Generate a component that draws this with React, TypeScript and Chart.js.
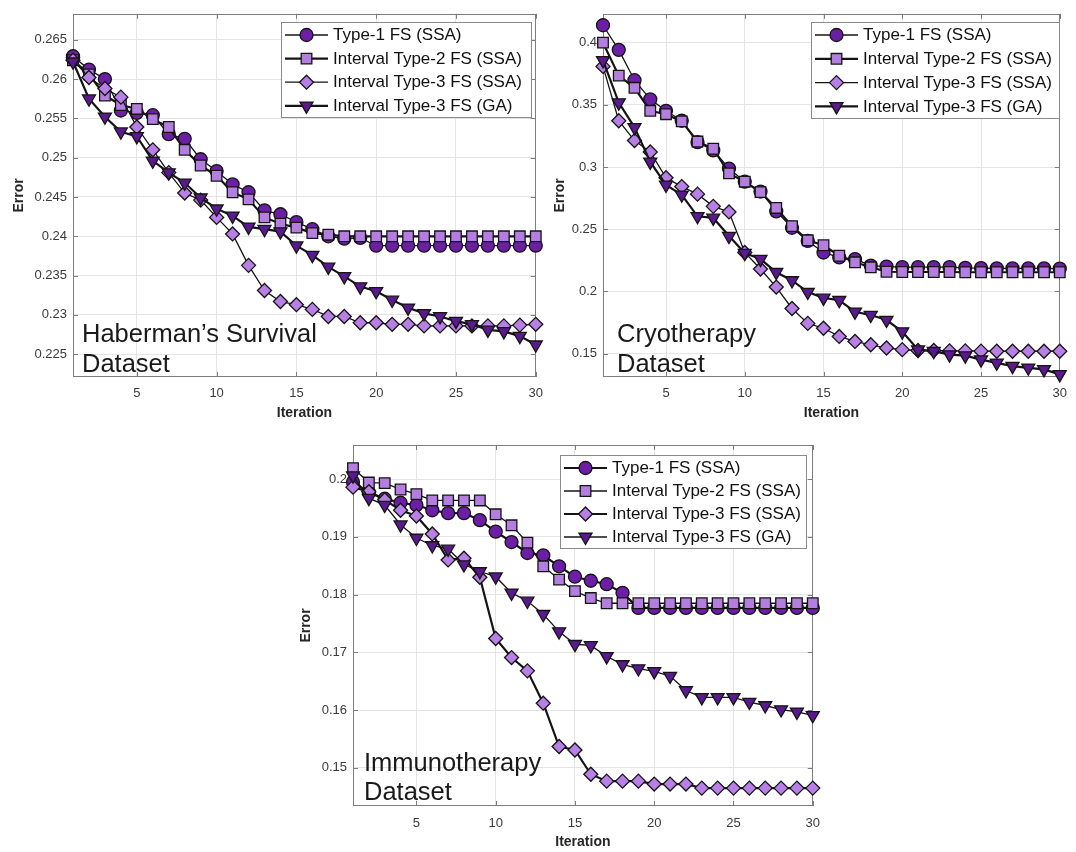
import React, { useEffect, useRef } from "react";
import { Chart, registerables } from "chart.js";
import { drawPoint } from "chart.js/helpers";

Chart.register(...registerables);

// ---------------- data ----------------
const iterations = [1, 2, 3, 4, 5, 6, 7, 8, 9, 10, 11, 12, 13, 14, 15, 16, 17, 18, 19, 20, 21, 22, 23, 24, 25, 26, 27, 28, 29, 30];
const xTicks = [5, 10, 15, 20, 25, 30];
const seriesNames = ["Type-1 FS (SSA)", "Interval Type-2 FS (SSA)", "Interval Type-3 FS (SSA)", "Interval Type-3 FS (GA)"];

const habermanYTicks = [0.225, 0.23, 0.235, 0.24, 0.245, 0.25, 0.255, 0.26, 0.265];
const habermanType1 = [0.2629, 0.2612, 0.2600, 0.2560, 0.2557, 0.2554, 0.2530, 0.2524, 0.2498, 0.2483, 0.2466, 0.2456, 0.2433, 0.2428, 0.2418, 0.2409, 0.2400, 0.2397, 0.2398, 0.2388, 0.2388, 0.2388, 0.2388, 0.2388, 0.2388, 0.2388, 0.2388, 0.2388, 0.2388, 0.2388];
const habermanType2 = [0.2624, 0.2606, 0.2579, 0.2567, 0.2562, 0.2549, 0.2539, 0.2510, 0.2490, 0.2477, 0.2456, 0.2447, 0.2424, 0.2416, 0.2411, 0.2404, 0.2402, 0.2400, 0.2400, 0.2400, 0.2400, 0.2400, 0.2400, 0.2400, 0.2400, 0.2400, 0.2400, 0.2400, 0.2400, 0.2400];
const habermanType3 = [0.2624, 0.2602, 0.2588, 0.2577, 0.2539, 0.2510, 0.2481, 0.2455, 0.2446, 0.2424, 0.2403, 0.2363, 0.2331, 0.2317, 0.2313, 0.2307, 0.2298, 0.2298, 0.2290, 0.2290, 0.2288, 0.2288, 0.2286, 0.2286, 0.2286, 0.2286, 0.2286, 0.2286, 0.2287, 0.2288];
const habermanGA = [0.2622, 0.2575, 0.2552, 0.2533, 0.2527, 0.2496, 0.2481, 0.2468, 0.2449, 0.2435, 0.2426, 0.2412, 0.2409, 0.2406, 0.2388, 0.2376, 0.2361, 0.2349, 0.2336, 0.2330, 0.2319, 0.2309, 0.2302, 0.2298, 0.2292, 0.2288, 0.2281, 0.2279, 0.2273, 0.2262];

const cryoYTicks = [0.15, 0.2, 0.25, 0.3, 0.35, 0.4];
const cryoType1 = [0.4140, 0.3942, 0.3698, 0.3544, 0.3452, 0.3372, 0.3200, 0.3134, 0.2988, 0.2882, 0.2803, 0.2644, 0.2512, 0.2406, 0.2313, 0.2273, 0.2260, 0.2207, 0.2200, 0.2195, 0.2195, 0.2195, 0.2195, 0.2190, 0.2188, 0.2186, 0.2185, 0.2185, 0.2185, 0.2183];
const cryoType2 = [0.4000, 0.3735, 0.3637, 0.3452, 0.3425, 0.3367, 0.3205, 0.3147, 0.2949, 0.2882, 0.2798, 0.2671, 0.2525, 0.2411, 0.2371, 0.2287, 0.2234, 0.2194, 0.2158, 0.2156, 0.2156, 0.2156, 0.2156, 0.2154, 0.2154, 0.2154, 0.2154, 0.2154, 0.2154, 0.2154];
const cryoType3 = [0.3809, 0.3372, 0.3213, 0.3121, 0.2914, 0.2843, 0.2782, 0.2684, 0.2639, 0.2313, 0.2180, 0.2035, 0.1863, 0.1743, 0.1704, 0.1638, 0.1598, 0.1571, 0.1545, 0.1532, 0.1525, 0.1525, 0.1522, 0.1522, 0.1520, 0.1519, 0.1519, 0.1519, 0.1519, 0.1519];
const cryoGA = [0.3857, 0.3518, 0.3319, 0.3041, 0.2856, 0.2777, 0.2604, 0.2591, 0.2445, 0.2308, 0.2260, 0.2154, 0.2088, 0.1995, 0.1948, 0.1929, 0.1836, 0.1810, 0.1770, 0.1677, 0.1532, 0.1519, 0.1492, 0.1484, 0.1452, 0.1426, 0.1399, 0.1386, 0.1373, 0.1333];

const immunoYTicks = [0.15, 0.16, 0.17, 0.18, 0.19, 0.2];
const immunoType1 = [0.1995, 0.1977, 0.1966, 0.1959, 0.1955, 0.1946, 0.1941, 0.1941, 0.1929, 0.1909, 0.1891, 0.1872, 0.1868, 0.1849, 0.1831, 0.1824, 0.1818, 0.1803, 0.1777, 0.1777, 0.1777, 0.1777, 0.1777, 0.1777, 0.1777, 0.1777, 0.1777, 0.1777, 0.1777, 0.1777];
const immunoType2 = [0.2019, 0.1994, 0.1993, 0.1982, 0.1974, 0.1963, 0.1963, 0.1963, 0.1963, 0.1939, 0.1920, 0.1890, 0.1849, 0.1826, 0.1806, 0.1794, 0.1785, 0.1785, 0.1785, 0.1785, 0.1785, 0.1785, 0.1785, 0.1785, 0.1785, 0.1785, 0.1785, 0.1785, 0.1785, 0.1785];
const immunoType3 = [0.1986, 0.1978, 0.1964, 0.1946, 0.1936, 0.1905, 0.1860, 0.1863, 0.1830, 0.1724, 0.1691, 0.1668, 0.1612, 0.1537, 0.1531, 0.1489, 0.1477, 0.1477, 0.1477, 0.1472, 0.1472, 0.1472, 0.1465, 0.1465, 0.1465, 0.1465, 0.1465, 0.1465, 0.1465, 0.1465];
const immunoGA = [0.2006, 0.1967, 0.1955, 0.1921, 0.1898, 0.1885, 0.1879, 0.1852, 0.1840, 0.1831, 0.1803, 0.1789, 0.1766, 0.1736, 0.1714, 0.1712, 0.1693, 0.1679, 0.1672, 0.1667, 0.1659, 0.1634, 0.1622, 0.1622, 0.1622, 0.1614, 0.1608, 0.1601, 0.1597, 0.1591];

// ---------------- styles ----------------
const FONT = '"Liberation Sans", Arial, Helvetica, sans-serif';
const markerStyles = [
  { pointStyle: "circle", radius: 6.5, rotation: 0, fill: "#6c1fa6" },
  { pointStyle: "rect", radius: 7.5, rotation: 0, fill: "#b47ee0" },
  { pointStyle: "rectRot", radius: 7, rotation: 0, fill: "#b87fe6" },
  { pointStyle: "triangle", radius: 7.5, rotation: 180, fill: "#5b1990" },
];
const LINE_COLOR = "#141414";
const BOX_COLOR = "#7d7d7d";
const GRID_COLOR = "#e4e4e4";

type Panel = {
  canvas: { left: number; top: number; width: number; height: number };
  area: { left: number; top: number; right: number; bottom: number };
  yMin: number;
  yMax: number;
  yTicks: number[];
  series: number[][];
  lineWidths: number[];
  label: string[];
  labelX: number;
  labelBaselines: number[];
  legend: { x: number; y: number; w: number; h: number; row0: number; rowGap: number; sampleX: number; sampleLen: number; textX: number };
  yTitlePad: number;
  xTitlePad: number;
  xTickPad: number;
};

const panels: Panel[] = [
  {
    canvas: { left: 0, top: 0, width: 552, height: 428 },
    area: { left: 73, top: 9, right: 540, bottom: 377 },
    yMin: 0.2221, yMax: 0.2683, yTicks: habermanYTicks,
    series: [habermanType1, habermanType2, habermanType3, habermanGA],
    lineWidths: [1.3, 2.2, 1.3, 2.2],
    label: ["Haberman\u2019s Survival", "Dataset"], labelX: 82, labelBaselines: [342, 372],
    legend: { x: 281, y: 22, w: 250, h: 95, row0: 35, rowGap: 23.6, sampleX: 285, sampleLen: 43, textX: 333 },
    yTitlePad: 10.6, xTitlePad: 6.6, xTickPad: 9,
  },
  {
    canvas: { left: 545, top: 0, width: 531, height: 428 },
    area: { left: 603, top: 9, right: 1069, bottom: 377 },
    yMin: 0.1312, yMax: 0.4232, yTicks: cryoYTicks,
    series: [cryoType1, cryoType2, cryoType3, cryoGA],
    lineWidths: [1.3, 2.2, 1.3, 2.2],
    label: ["Cryotherapy", "Dataset"], labelX: 617, labelBaselines: [342, 372],
    legend: { x: 811, y: 22, w: 248, h: 96, row0: 35, rowGap: 23.8, sampleX: 815, sampleLen: 43, textX: 863 },
    yTitlePad: 6.6, xTitlePad: 6.6, xTickPad: 9,
  },
  {
    canvas: { left: 290, top: 430, width: 540, height: 422 },
    area: { left: 353, top: 445, right: 817, bottom: 806 },
    yMin: 0.1434, yMax: 0.2059, yTicks: immunoYTicks,
    series: [immunoType1, immunoType2, immunoType3, immunoGA],
    lineWidths: [2.2, 1.3, 2.2, 1.3],
    label: ["Immunotherapy", "Dataset"], labelX: 364, labelBaselines: [771, 800],
    legend: { x: 560, y: 455, w: 246, h: 93, row0: 468, rowGap: 23, sampleX: 564, sampleLen: 43, textX: 612 },
    yTitlePad: 7.6, xTitlePad: 1.6, xTickPad: 10,
  },
];

function fmt(v: number) {
  return String(+v.toFixed(4));
}

function PanelChart({ p }: { p: Panel }) {
  const ref = useRef<HTMLCanvasElement | null>(null);
  useEffect(() => {
    if (!ref.current) return;
    const c = p.canvas;
    const yAxisW = p.area.left - c.left;
    const xAxisH = c.top + c.height - p.area.bottom;
    const padTop = p.area.top - c.top;
    const padRight = c.left + c.width - p.area.right;

    const decor = {
      id: "decor",
      beforeDatasetsDraw(chart: any) {
        const ctx = chart.ctx;
        const a = chart.chartArea;
        const xs = chart.scales.x;
        const ys = chart.scales.y;
        ctx.save();
        ctx.strokeStyle = BOX_COLOR;
        ctx.lineWidth = 1;
        ctx.strokeRect(Math.round(a.left) + 0.5, Math.round(a.top) + 0.5, Math.round(a.right - a.left) - 1, Math.round(a.bottom - a.top) - 1);
        ctx.beginPath();
        const tl = 5;
        for (const t of xTicks) {
          const x = Math.round(xs.getPixelForValue(t)) + 0.5;
          ctx.moveTo(x, a.bottom);
          ctx.lineTo(x, a.bottom - tl);
          ctx.moveTo(x, a.top);
          ctx.lineTo(x, a.top + tl);
        }
        for (const t of p.yTicks) {
          const y = Math.round(ys.getPixelForValue(t)) + 0.5;
          ctx.moveTo(a.left, y);
          ctx.lineTo(a.left + tl, y);
          ctx.moveTo(a.right, y);
          ctx.lineTo(a.right - tl, y);
        }
        ctx.stroke();
        ctx.restore();
      },
      afterDatasetsDraw(chart: any) {
        const ctx = chart.ctx;
        ctx.save();
        ctx.fillStyle = "#1a1a1a";
        ctx.font = `25.5px ${FONT}`;
        ctx.textBaseline = "alphabetic";
        ctx.textAlign = "left";
        p.label.forEach((t, i) => ctx.fillText(t, p.labelX - c.left, p.labelBaselines[i] - c.top));
        const L = p.legend;
        const lx = L.x - c.left;
        const ly = L.y - c.top;
        ctx.fillStyle = "#ffffff";
        ctx.fillRect(lx, ly, L.w, L.h);
        ctx.strokeStyle = "#8a8a8a";
        ctx.lineWidth = 1;
        ctx.strokeRect(Math.round(lx) + 0.5, Math.round(ly) + 0.5, L.w, L.h);
        seriesNames.forEach((name, i) => {
          const y = L.row0 - c.top + i * L.rowGap;
          const sx = L.sampleX - c.left;
          ctx.beginPath();
          ctx.strokeStyle = LINE_COLOR;
          ctx.lineWidth = p.lineWidths[i];
          ctx.moveTo(sx, y);
          ctx.lineTo(sx + L.sampleLen, y);
          ctx.stroke();
          const m = markerStyles[i];
          ctx.fillStyle = m.fill;
          ctx.strokeStyle = LINE_COLOR;
          ctx.lineWidth = 1.3;
          drawPoint(ctx, { pointStyle: m.pointStyle, radius: m.radius, rotation: m.rotation, borderWidth: 1.3 } as any, sx + L.sampleLen / 2, y);
          ctx.fillStyle = "#111111";
          ctx.font = `17px ${FONT}`;
          ctx.textBaseline = "middle";
          ctx.textAlign = "left";
          ctx.fillText(name, L.textX - c.left, y + 0.5);
        });
        ctx.restore();
      },
    };

    const chart = new Chart(ref.current, {
      type: "line",
      data: {
        datasets: p.series.map((s, i) => ({
          label: seriesNames[i],
          data: iterations.map((x, j) => ({ x, y: s[j] })),
          borderColor: LINE_COLOR,
          borderWidth: p.lineWidths[i],
          pointStyle: markerStyles[i].pointStyle as any,
          pointRadius: markerStyles[i].radius,
          pointRotation: markerStyles[i].rotation,
          pointBackgroundColor: markerStyles[i].fill,
          pointBorderColor: LINE_COLOR,
          pointBorderWidth: 1.3,
          tension: 0,
          fill: false,
          order: 4 - i,
          clip: false as any,
        })),
      },
      options: {
        animation: false,
        responsive: false,
        maintainAspectRatio: false,
        events: [],
        layout: { padding: { top: padTop, right: padRight, left: 0, bottom: 0 } },
        plugins: { legend: { display: false }, tooltip: { enabled: false } },
        scales: {
          x: {
            type: "linear",
            min: 1,
            max: 30,
            afterBuildTicks: (s: any) => { s.ticks = xTicks.map((v) => ({ value: v })); },
            afterFit: (s: any) => { s.height = xAxisH; },
            grid: { color: GRID_COLOR, lineWidth: 1, drawTicks: false },
            border: { display: false },
            ticks: { autoSkip: false, maxRotation: 0, padding: p.xTickPad, color: "#3a3a3a", font: { family: FONT, size: 13 }, callback: (v: any) => String(v) },
            title: { display: true, text: "Iteration", color: "#262626", font: { family: FONT, size: 14, weight: "bold" }, padding: { top: 0, bottom: p.xTitlePad } },
          },
          y: {
            type: "linear",
            min: p.yMin,
            max: p.yMax,
            afterBuildTicks: (s: any) => { s.ticks = p.yTicks.map((v) => ({ value: v })); },
            afterFit: (s: any) => { s.width = yAxisW; },
            grid: { color: GRID_COLOR, lineWidth: 1, drawTicks: false },
            border: { display: false },
            ticks: { autoSkip: false, padding: 6, color: "#3a3a3a", font: { family: FONT, size: 13 }, callback: (v: any) => fmt(Number(v)) },
            title: { display: true, text: "Error", color: "#262626", font: { family: FONT, size: 14, weight: "bold" }, padding: { top: p.yTitlePad, bottom: 0 } },
          },
        },
      },
      plugins: [decor as any],
    });
    return () => chart.destroy();
  }, [p]);

  return (
    <canvas
      ref={ref}
      width={p.canvas.width}
      height={p.canvas.height}
      style={{ position: "absolute", left: p.canvas.left, top: p.canvas.top, width: p.canvas.width, height: p.canvas.height }}
    />
  );
}

export default function App() {
  return (
    <div style={{ position: "absolute", left: 0, top: 0, width: 1076, height: 852, background: "#ffffff", overflow: "hidden" }}>
      {panels.map((p, i) => (
        <PanelChart key={i} p={p} />
      ))}
    </div>
  );
}
